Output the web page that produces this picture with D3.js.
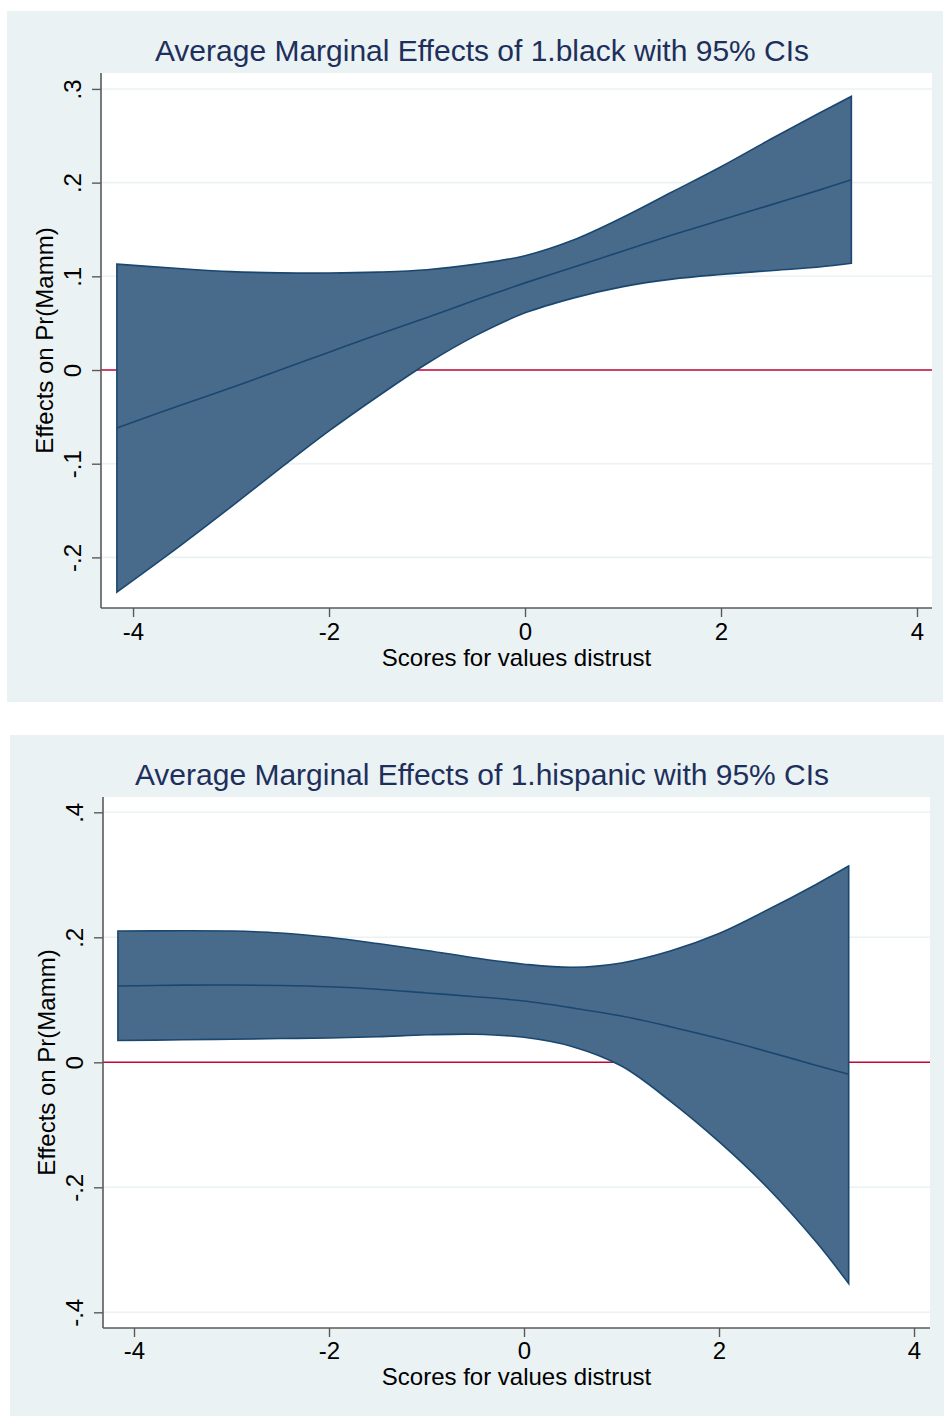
<!DOCTYPE html>
<html>
<head>
<meta charset="utf-8">
<script src="https://cdn.jsdelivr.net/npm/d3@7/dist/d3.min.js"></script>
<style>
  html, body { margin: 0; padding: 0; background: #ffffff; }
  svg { display: block; }
  text { font-family: "Liberation Sans", Arial, Helvetica, sans-serif; }
</style>
</head>
<body>
<svg id="chart" width="944" height="1416"></svg>
<script>
// ---------------- data ----------------
const xScores = [-4.165, -3.5, -3, -2.5, -2, -1.5, -1, -0.5, 0, 0.5, 1, 1.5, 2, 2.5, 3, 3.33];

// Panel 1: 1.black
const blackEst   = [-0.062, -0.037, -0.019, 0.000, 0.019, 0.038, 0.056, 0.075, 0.093, 0.110, 0.127, 0.144, 0.160, 0.176, 0.192, 0.203];
const blackUpper = [0.113, 0.108, 0.105, 0.1037, 0.1035, 0.1045, 0.107, 0.113, 0.122, 0.139, 0.163, 0.190, 0.217, 0.246, 0.274, 0.292];
const blackLower = [-0.237, -0.186, -0.146, -0.105, -0.065, -0.028, 0.007, 0.037, 0.061, 0.077, 0.089, 0.097, 0.102, 0.106, 0.110, 0.114];

// Panel 2: 1.hispanic
const hispEst   = [0.122, 0.1235, 0.1237, 0.123, 0.121, 0.117, 0.111, 0.105, 0.098, 0.087, 0.074, 0.057, 0.038, 0.017, -0.005, -0.019];
const hispUpper = [0.210, 0.2105, 0.210, 0.207, 0.200, 0.190, 0.179, 0.167, 0.157, 0.152, 0.159, 0.178, 0.206, 0.244, 0.285, 0.314];
const hispLower = [0.035, 0.036, 0.037, 0.038, 0.039, 0.041, 0.044, 0.045, 0.040, 0.025, -0.006, -0.062, -0.127, -0.201, -0.288, -0.354];

const xTicks = [-4, -2, 0, 2, 4];
const blackYTicks = [-0.2, -0.1, 0, 0.1, 0.2, 0.3];
const hispYTicks = [-0.4, -0.2, 0, 0.2, 0.4];
const blackYLabels = ["-.2", "-.1", "0", ".1", ".2", ".3"];
const hispYLabels = ["-.4", "-.2", "0", ".2", ".4"];

const titles = ["Average Marginal Effects of 1.black with 95% CIs",
                "Average Marginal Effects of 1.hispanic with 95% CIs"];
const xTitle = "Scores for values distrust";
const yTitle = "Effects on Pr(Mamm)";

// ---------------- styles / layout ----------------
const BG = "#eaf2f3", NAVY = "#1a476f", FILL = "#486b8c", RED = "#c10534",
      AXIS = "#5a5a5a", GRID = "#eaf2f3", TITLE = "#1e2f5c";

const panels = [
  { bg: [7, 11, 936, 691], plot: [101, 73, 932, 608],
    xDom: [-4.327, 4.153], yDom: [-0.254, 0.317],
    est: blackEst, up: blackUpper, lo: blackLower,
    yTicks: blackYTicks, yLabels: blackYLabels, title: titles[0],
    titleY: 61, xTitleY: 666, tickLabY: 640, yTitleX: 53 },
  { bg: [10, 735, 934, 681], plot: [103, 797, 930, 1328],
    xDom: [-4.318, 4.164], yDom: [-0.4251, 0.4245],
    est: hispEst, up: hispUpper, lo: hispLower,
    yTicks: hispYTicks, yLabels: hispYLabels, title: titles[1],
    titleY: 785, xTitleY: 1385, tickLabY: 1359, yTitleX: 55 }
];

const svg = d3.select("#chart");
const curve = d3.curveCatmullRom.alpha(0.5);

panels.forEach(p => {
  const g = svg.append("g");
  const [px0, py0, px1, py1] = p.plot;

  g.append("rect").attr("x", p.bg[0]).attr("y", p.bg[1])
    .attr("width", p.bg[2]).attr("height", p.bg[3]).attr("fill", BG);
  g.append("rect").attr("x", px0).attr("y", py0)
    .attr("width", px1 - px0).attr("height", py1 - py0).attr("fill", "#ffffff");

  const x = d3.scaleLinear().domain(p.xDom).range([px0, px1]);
  const y = d3.scaleLinear().domain(p.yDom).range([py1, py0]);

  // gridlines
  g.append("g").selectAll("line").data(p.yTicks.filter(v => v !== 0)).join("line")
    .attr("x1", px0).attr("x2", px1)
    .attr("y1", d => y(d)).attr("y2", d => y(d))
    .attr("stroke", GRID).attr("stroke-width", 1.6);

  // zero reference line
  g.append("line").attr("x1", px0).attr("x2", px1)
    .attr("y1", y(0)).attr("y2", y(0))
    .attr("stroke", RED).attr("stroke-width", 1.6);

  // CI area
  const pts = xScores.map((xv, i) => ({ x: xv, lo: p.lo[i], up: p.up[i], est: p.est[i] }));
  const area = d3.area().x(d => x(d.x)).y0(d => y(d.lo)).y1(d => y(d.up)).curve(curve);
  g.append("path").datum(pts).attr("d", area)
    .attr("fill", FILL).attr("stroke", NAVY).attr("stroke-width", 1.6)
    .attr("stroke-linejoin", "miter");

  // point estimate line
  const line = d3.line().x(d => x(d.x)).y(d => y(d.est)).curve(curve);
  g.append("path").datum(pts).attr("d", line)
    .attr("fill", "none").attr("stroke", NAVY).attr("stroke-width", 1.6);

  // axes
  const xAxis = d3.axisBottom(x).tickValues(xTicks).tickSize(9).tickPadding(6)
    .tickFormat(d => d < 0 ? "-" + Math.abs(d) : String(d));
  const gx = g.append("g").attr("transform", `translate(0,${py1})`).call(xAxis);
  gx.select(".domain").attr("d", `M${px0},0H${px1}`).attr("stroke", AXIS).attr("stroke-width", 1.6);
  gx.selectAll(".tick line").attr("stroke", AXIS).attr("stroke-width", 1.4);
  gx.selectAll(".tick text").attr("font-size", 24).attr("fill", "#000")
    .attr("y", p.tickLabY - py1).attr("dy", 0)
    .attr("font-family", "'Liberation Sans', Arial, sans-serif");

  const yAxis = d3.axisLeft(y).tickValues(p.yTicks).tickSize(9)
    .tickFormat((d, i) => p.yLabels[i]);
  const gy = g.append("g").attr("transform", `translate(${px0},0)`).call(yAxis);
  gy.select(".domain").attr("d", `M0,${py0}V${py1}`).attr("stroke", AXIS).attr("stroke-width", 1.6);
  gy.selectAll(".tick line").attr("stroke", AXIS).attr("stroke-width", 1.4);
  gy.selectAll(".tick text").attr("font-size", 24).attr("fill", "#000")
    .attr("x", null).attr("dy", null)
    .attr("text-anchor", "middle")
    .attr("transform", "translate(-20,0) rotate(-90)")
    .attr("font-family", "'Liberation Sans', Arial, sans-serif");

  // titles
  g.append("text").attr("x", 482).attr("y", p.titleY).attr("text-anchor", "middle")
    .attr("font-size", 30).attr("fill", TITLE).text(p.title);
  g.append("text").attr("x", (px0 + px1) / 2).attr("y", p.xTitleY).attr("text-anchor", "middle")
    .attr("font-size", 24).attr("fill", "#000").text(xTitle);
  g.append("text").attr("transform", `translate(${p.yTitleX},${(py0 + py1) / 2}) rotate(-90)`)
    .attr("text-anchor", "middle").attr("font-size", 24).attr("fill", "#000").text(yTitle);
});
</script>
</body>
</html>
